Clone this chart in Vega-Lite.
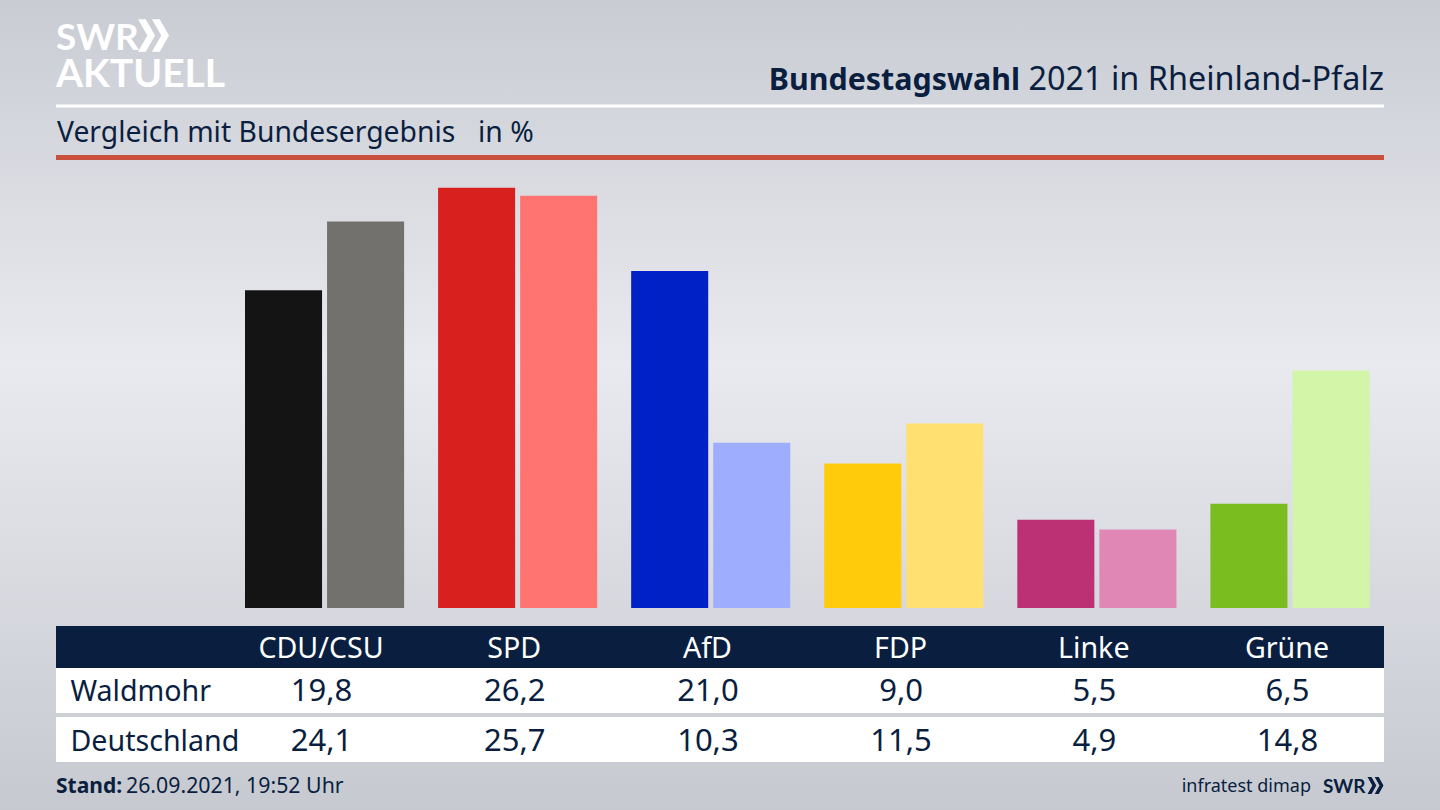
{
  "$schema": "https://vega.github.io/schema/vega-lite/v6.json",
  "width": 1440,
  "height": 810,
  "padding": 0,
  "autosize": {"type": "fit", "contains": "padding"},
  "background": "#d8dade",
  "config": {
    "view": {"stroke": null},
    "text": {"font": "Noto Sans"},
    "axis": {"disable": true}
  },
  "datasets": {
    "ergebnis": [
      {"partei": "CDU/CSU", "gebiet": "Waldmohr", "reihe": "CDU/CSU Waldmohr", "wert": 19.8, "text": "19,8"},
      {"partei": "CDU/CSU", "gebiet": "Deutschland", "reihe": "CDU/CSU Deutschland", "wert": 24.1, "text": "24,1"},
      {"partei": "SPD", "gebiet": "Waldmohr", "reihe": "SPD Waldmohr", "wert": 26.2, "text": "26,2"},
      {"partei": "SPD", "gebiet": "Deutschland", "reihe": "SPD Deutschland", "wert": 25.7, "text": "25,7"},
      {"partei": "AfD", "gebiet": "Waldmohr", "reihe": "AfD Waldmohr", "wert": 21.0, "text": "21,0"},
      {"partei": "AfD", "gebiet": "Deutschland", "reihe": "AfD Deutschland", "wert": 10.3, "text": "10,3"},
      {"partei": "FDP", "gebiet": "Waldmohr", "reihe": "FDP Waldmohr", "wert": 9.0, "text": "9,0"},
      {"partei": "FDP", "gebiet": "Deutschland", "reihe": "FDP Deutschland", "wert": 11.5, "text": "11,5"},
      {"partei": "Linke", "gebiet": "Waldmohr", "reihe": "Linke Waldmohr", "wert": 5.5, "text": "5,5"},
      {"partei": "Linke", "gebiet": "Deutschland", "reihe": "Linke Deutschland", "wert": 4.9, "text": "4,9"},
      {"partei": "Grüne", "gebiet": "Waldmohr", "reihe": "Grüne Waldmohr", "wert": 6.5, "text": "6,5"},
      {"partei": "Grüne", "gebiet": "Deutschland", "reihe": "Grüne Deutschland", "wert": 14.8, "text": "14,8"}
    ],
    "parteien": [
      {"partei": "CDU/CSU", "zeile": "Kopf"},
      {"partei": "SPD", "zeile": "Kopf"},
      {"partei": "AfD", "zeile": "Kopf"},
      {"partei": "FDP", "zeile": "Kopf"},
      {"partei": "Linke", "zeile": "Kopf"},
      {"partei": "Grüne", "zeile": "Kopf"}
    ],
    "gebiete": [
      {"gebiet": "Waldmohr", "spalte": "Gebiet", "bereich": "Tabelle"},
      {"gebiet": "Deutschland", "spalte": "Gebiet", "bereich": "Tabelle"}
    ],
    "flaeche": [{"bereich": "Tabelle", "zeile": "Kopf"}]
  },
  "resolve": {"scale": {"x": "independent", "y": "independent", "color": "independent"}},
  "layer": [
    {
      "data": {"name": "flaeche"},
      "mark": {
        "type": "rect",
        "color": {
          "gradient": "linear", "x1": 0, "y1": 0, "x2": 0, "y2": 1,
          "stops": [
            {"offset": 0, "color": "#c9ccd3"},
            {"offset": 0.45, "color": "#e9eaef"},
            {"offset": 1, "color": "#c6c9d0"}
          ]
        }
      }
    },
    {
      "data": {"name": "flaeche"},
      "mark": {"type": "rect", "color": "#ffffff"},
      "encoding": {
        "x": {"field": "bereich", "type": "nominal", "axis": null, "scale": {"type": "band", "range": [56, 1384], "paddingInner": 0, "paddingOuter": 0}},
        "y": {"field": "zeile", "type": "nominal", "axis": null, "scale": {"type": "band", "range": [104.5, 107.5], "paddingInner": 0, "paddingOuter": 0}}
      }
    },
    {
      "data": {"name": "flaeche"},
      "mark": {"type": "rect", "color": "#c9503c"},
      "encoding": {
        "x": {"field": "bereich", "type": "nominal", "axis": null, "scale": {"type": "band", "range": [56, 1384], "paddingInner": 0, "paddingOuter": 0}},
        "y": {"field": "zeile", "type": "nominal", "axis": null, "scale": {"type": "band", "range": [155, 160], "paddingInner": 0, "paddingOuter": 0}}
      }
    },
    {
      "data": {"name": "ergebnis"},
      "mark": {"type": "bar"},
      "encoding": {
        "x": {"field": "partei", "type": "nominal", "axis": null, "sort": null, "scale": {"type": "band", "domain": ["CDU/CSU", "SPD", "AfD", "FDP", "Linke", "Grüne"], "range": [245, 1369.5], "paddingInner": 0.176, "paddingOuter": 0}},
        "xOffset": {"field": "gebiet", "type": "nominal", "scale": {"domain": ["Waldmohr", "Deutschland"], "paddingInner": 0.061, "paddingOuter": 0}},
        "y": {"field": "wert", "type": "quantitative", "axis": null, "scale": {"domain": [0, 26.2], "range": [608, 187.7], "nice": false}},
        "color": {
          "field": "reihe", "type": "nominal", "legend": null,
          "scale": {
            "domain": ["CDU/CSU Waldmohr", "CDU/CSU Deutschland", "SPD Waldmohr", "SPD Deutschland", "AfD Waldmohr", "AfD Deutschland", "FDP Waldmohr", "FDP Deutschland", "Linke Waldmohr", "Linke Deutschland", "Grüne Waldmohr", "Grüne Deutschland"],
            "range": ["#141414", "#72716e", "#d8201f", "#ff7370", "#0021c6", "#9fadff", "#ffcb0a", "#ffe070", "#bc3074", "#e087b6", "#7abd1e", "#d3f5a8"]
          }
        }
      }
    },
    {
      "data": {"name": "flaeche"},
      "mark": {"type": "rect", "color": "#0a1f3f"},
      "encoding": {
        "x": {"field": "bereich", "type": "nominal", "axis": null, "scale": {"type": "band", "range": [56, 1384], "paddingInner": 0, "paddingOuter": 0}},
        "y": {"field": "zeile", "type": "nominal", "axis": null, "scale": {"type": "band", "range": [626, 668], "paddingInner": 0, "paddingOuter": 0}}
      }
    },
    {
      "data": {"name": "gebiete"},
      "mark": {"type": "rect", "color": "#ffffff"},
      "encoding": {
        "x": {"field": "bereich", "type": "nominal", "axis": null, "scale": {"type": "band", "range": [56, 1384], "paddingInner": 0, "paddingOuter": 0}},
        "y": {"field": "gebiet", "type": "nominal", "axis": null, "scale": {"type": "band", "domain": ["Waldmohr", "Deutschland"], "range": [668, 762], "paddingInner": 0.085, "paddingOuter": 0}}
      }
    },
    {
      "data": {"name": "parteien"},
      "mark": {"type": "text", "fontSize": 28.6, "color": "#ffffff", "baseline": "middle", "dy": 2},
      "encoding": {
        "text": {"field": "partei"},
        "x": {"field": "partei", "type": "nominal", "axis": null, "scale": {"type": "point", "domain": ["CDU/CSU", "SPD", "AfD", "FDP", "Linke", "Grüne"], "range": [321, 1287], "padding": 0}},
        "y": {"field": "zeile", "type": "nominal", "axis": null, "scale": {"type": "band", "range": [626, 668], "paddingInner": 0, "paddingOuter": 0}}
      }
    },
    {
      "data": {"name": "ergebnis"},
      "mark": {"type": "text", "fontSize": 31, "color": "#0a1f3f", "baseline": "middle", "dy": 2},
      "encoding": {
        "text": {"field": "text"},
        "x": {"field": "partei", "type": "nominal", "axis": null, "scale": {"type": "point", "domain": ["CDU/CSU", "SPD", "AfD", "FDP", "Linke", "Grüne"], "range": [321.5, 1287.5], "padding": 0}},
        "y": {"field": "gebiet", "type": "nominal", "axis": null, "scale": {"type": "band", "domain": ["Waldmohr", "Deutschland"], "range": [668, 762], "paddingInner": 0.085, "paddingOuter": 0}}
      }
    },
    {
      "data": {"name": "gebiete"},
      "mark": {"type": "text", "fontSize": 28.6, "color": "#0a1f3f", "baseline": "middle", "align": "left", "dy": 2},
      "encoding": {
        "text": {"field": "gebiet"},
        "x": {"field": "spalte", "type": "nominal", "axis": null, "scale": {"type": "point", "range": [70.5, 70.5], "padding": 0}},
        "y": {"field": "gebiet", "type": "nominal", "axis": null, "scale": {"type": "band", "domain": ["Waldmohr", "Deutschland"], "range": [668, 762], "paddingInner": 0.085, "paddingOuter": 0}}
      }
    },
    {
      "data": {"values": [{"t": "Bundestagswahl"}]},
      "mark": {"type": "text", "fontSize": 30.4, "fontWeight": "bold", "color": "#0a1f3f", "align": "right", "baseline": "alphabetic"},
      "encoding": {
        "text": {"field": "t"},
        "x": {"field": "t", "type": "nominal", "axis": null, "scale": {"type": "point", "range": [1020, 1020], "padding": 0}},
        "y": {"field": "t", "type": "nominal", "axis": null, "scale": {"type": "point", "range": [90, 90], "padding": 0}}
      }
    },
    {
      "data": {"values": [{"t": "2021 in Rheinland-Pfalz"}]},
      "mark": {"type": "text", "fontSize": 32.4, "color": "#0a1f3f", "align": "right", "baseline": "alphabetic"},
      "encoding": {
        "text": {"field": "t"},
        "x": {"field": "t", "type": "nominal", "axis": null, "scale": {"type": "point", "range": [1384, 1384], "padding": 0}},
        "y": {"field": "t", "type": "nominal", "axis": null, "scale": {"type": "point", "range": [90, 90], "padding": 0}}
      }
    },
    {
      "data": {"values": [{"t": "Vergleich mit Bundesergebnis"}, {"t": "in %"}]},
      "mark": {"type": "text", "fontSize": 28.3, "color": "#0a1f3f", "align": "left", "baseline": "alphabetic"},
      "encoding": {
        "text": {"field": "t"},
        "x": {"field": "t", "type": "nominal", "axis": null, "sort": null, "scale": {"type": "point", "range": [57, 478], "padding": 0}},
        "y": {"datum": "Zeile", "type": "nominal", "axis": null, "scale": {"type": "point", "range": [142, 142], "padding": 0}}
      }
    },
    {
      "data": {"values": [{"t": "SWR"}]},
      "mark": {"type": "text", "fontSize": 37, "fontWeight": "bold", "font": "Lato", "color": "#ffffff", "align": "left", "baseline": "alphabetic"},
      "encoding": {
        "text": {"field": "t"},
        "x": {"field": "t", "type": "nominal", "axis": null, "scale": {"type": "point", "range": [56, 56], "padding": 0}},
        "y": {"field": "t", "type": "nominal", "axis": null, "scale": {"type": "point", "range": [50, 50], "padding": 0}}
      }
    },
    {
      "data": {"values": [{"t": "Pfeile"}]},
      "mark": {"type": "point", "filled": true, "opacity": 1, "color": "#ffffff", "size": 961, "shape": "M-1,-1.05L-0.5,-1.05L0.1,0L-0.5,1.05L-1,1.05L-0.4,0ZM-0.1,-1.05L0.4,-1.05L1,0L0.4,1.05L-0.1,1.05L0.5,0Z"},
      "encoding": {
        "x": {"field": "t", "type": "nominal", "axis": null, "scale": {"type": "point", "range": [153.5, 153.5], "padding": 0}},
        "y": {"field": "t", "type": "nominal", "axis": null, "scale": {"type": "point", "range": [35.5, 35.5], "padding": 0}}
      }
    },
    {
      "data": {"values": [{"t": "AKTUELL"}]},
      "mark": {"type": "text", "fontSize": 39, "fontWeight": "bold", "font": "Lato", "color": "#ffffff", "align": "left", "baseline": "alphabetic"},
      "encoding": {
        "text": {"field": "t"},
        "x": {"field": "t", "type": "nominal", "axis": null, "scale": {"type": "point", "range": [56, 56], "padding": 0}},
        "y": {"field": "t", "type": "nominal", "axis": null, "scale": {"type": "point", "range": [87, 87], "padding": 0}}
      }
    },
    {
      "data": {"values": [{"t": "Stand:"}]},
      "mark": {"type": "text", "fontSize": 21, "fontWeight": "bold", "color": "#0a1f3f", "align": "left", "baseline": "alphabetic"},
      "encoding": {
        "text": {"field": "t"},
        "x": {"field": "t", "type": "nominal", "axis": null, "scale": {"type": "point", "range": [56, 56], "padding": 0}},
        "y": {"field": "t", "type": "nominal", "axis": null, "scale": {"type": "point", "range": [793, 793], "padding": 0}}
      }
    },
    {
      "data": {"values": [{"t": "26.09.2021, 19:52 Uhr"}]},
      "mark": {"type": "text", "fontSize": 21.3, "color": "#0a1f3f", "align": "left", "baseline": "alphabetic"},
      "encoding": {
        "text": {"field": "t"},
        "x": {"field": "t", "type": "nominal", "axis": null, "scale": {"type": "point", "range": [126, 126], "padding": 0}},
        "y": {"field": "t", "type": "nominal", "axis": null, "scale": {"type": "point", "range": [793, 793], "padding": 0}}
      }
    },
    {
      "data": {"values": [{"t": "infratest dimap"}]},
      "mark": {"type": "text", "fontSize": 18, "color": "#0a1f3f", "align": "right", "baseline": "alphabetic"},
      "encoding": {
        "text": {"field": "t"},
        "x": {"field": "t", "type": "nominal", "axis": null, "scale": {"type": "point", "range": [1311, 1311], "padding": 0}},
        "y": {"field": "t", "type": "nominal", "axis": null, "scale": {"type": "point", "range": [792, 792], "padding": 0}}
      }
    },
    {
      "data": {"values": [{"t": "SWR"}]},
      "mark": {"type": "text", "fontSize": 19, "fontWeight": "bold", "font": "Lato", "color": "#0a1f3f", "align": "right", "baseline": "alphabetic"},
      "encoding": {
        "text": {"field": "t"},
        "x": {"field": "t", "type": "nominal", "axis": null, "scale": {"type": "point", "range": [1365.5, 1365.5], "padding": 0}},
        "y": {"field": "t", "type": "nominal", "axis": null, "scale": {"type": "point", "range": [792.5, 792.5], "padding": 0}}
      }
    },
    {
      "data": {"values": [{"t": "Pfeile"}]},
      "mark": {"type": "point", "filled": true, "opacity": 1, "color": "#0a1f3f", "size": 256, "shape": "M-1,-1.05L-0.5,-1.05L0.1,0L-0.5,1.05L-1,1.05L-0.4,0ZM-0.1,-1.05L0.4,-1.05L1,0L0.4,1.05L-0.1,1.05L0.5,0Z"},
      "encoding": {
        "x": {"field": "t", "type": "nominal", "axis": null, "scale": {"type": "point", "range": [1375.5, 1375.5], "padding": 0}},
        "y": {"field": "t", "type": "nominal", "axis": null, "scale": {"type": "point", "range": [785.5, 785.5], "padding": 0}}
      }
    }
  ]
}
